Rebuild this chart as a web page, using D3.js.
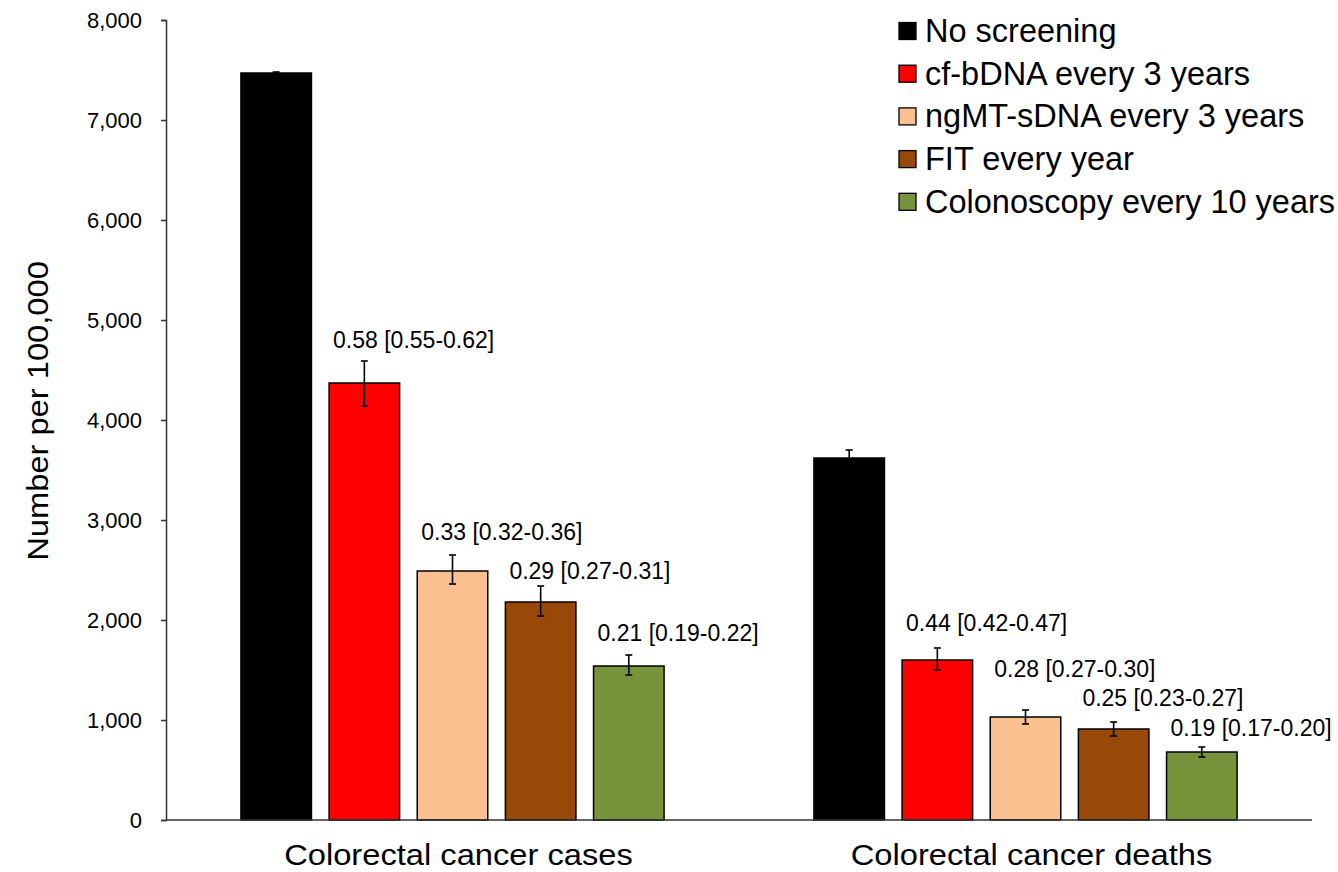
<!DOCTYPE html>
<html>
<head>
<meta charset="utf-8">
<script src="https://cdn.jsdelivr.net/npm/d3@7"></script>
<style>
  html, body { margin: 0; padding: 0; background: #fff; }
  svg { display: block; font-family: "Liberation Sans", Arial, Helvetica, sans-serif; }
</style>
</head>
<body>
<svg id="chart" width="1338" height="872"></svg>
<script>
// Outcome groups and screening strategies
const groups = ["Colorectal cancer cases", "Colorectal cancer deaths"];
const strategies = ["No screening", "cf-bDNA every 3 years", "ngMT-sDNA every 3 years", "FIT every year", "Colonoscopy every 10 years"];
const colors = ["#000000", "#FF0000", "#FAC090", "#984807", "#77933C"];

// Number per 100,000 by strategy, with uncertainty bounds
const casesValues = [7470, 4370, 2490, 2180, 1540];
const casesLow    = [7460, 4140, 2360, 2040, 1450];
const casesHigh   = [7480, 4590, 2650, 2340, 1650];

const deathsValues = [3620, 1600, 1030, 910, 680];
const deathsLow    = [3540, 1500, 960, 840, 630];
const deathsHigh   = [3700, 1720, 1100, 980, 730];

// Relative-risk annotations (vs. no screening)
const casesLabels  = ["", "0.58 [0.55-0.62]", "0.33 [0.32-0.36]", "0.29 [0.27-0.31]", "0.21 [0.19-0.22]"];
const deathsLabels = ["", "0.44 [0.42-0.47]", "0.28 [0.27-0.30]", "0.25 [0.23-0.27]", "0.19 [0.17-0.20]"];

const yTicks = [0, 1000, 2000, 3000, 4000, 5000, 6000, 7000, 8000];

// ---- layout ----
const plot = { left: 166, right: 1312, top: 20, bottom: 820 };
// vertical lift of each annotation above its error bar (px)
const labelLift = [[0, 21, 23, 15, 22], [0, 25, 41, 24, 19]];

const series = [
  { values: casesValues, low: casesLow, high: casesHigh, labels: casesLabels },
  { values: deathsValues, low: deathsLow, high: deathsHigh, labels: deathsLabels }
];

const svg = d3.select("#chart");

const x0 = d3.scaleBand().domain(groups).range([plot.left, plot.right]).padding(0);
const x1 = d3.scaleBand().domain(strategies).range([0, x0.bandwidth()])
  .paddingInner(0.2).paddingOuter(0.85);
const y = d3.scaleLinear().domain([0, 8000]).range([plot.bottom, plot.top]);

// y axis
const yAxis = svg.append("g")
  .attr("transform", `translate(${plot.left},0)`)
  .call(d3.axisLeft(y).tickValues(yTicks).tickFormat(d3.format(",")).tickSize(5).tickPadding(19))
  .attr("font-size", 22)
  .attr("font-family", "'Liberation Sans', Arial, sans-serif");
yAxis.select(".domain").attr("stroke", "#333").attr("stroke-width", 1.5);
yAxis.selectAll(".tick line").attr("stroke", "#333").attr("stroke-width", 1.5);
yAxis.selectAll(".tick text").style("font-size", "22px").attr("fill", "#000");

// bars, error bars and annotations
groups.forEach((g, gi) => {
  const s = series[gi];
  const gx = x0(g);
  const grp = svg.append("g").attr("transform", `translate(${gx},0)`);

  strategies.forEach((st, i) => {
    const bx = x1(st), bw = x1.bandwidth();
    grp.append("rect")
      .attr("x", bx).attr("y", y(s.values[i]))
      .attr("width", bw).attr("height", y(0) - y(s.values[i]))
      .attr("fill", colors[i]).attr("stroke", "#000").attr("stroke-width", 1.5);

    const cx = bx + bw / 2, cap = 3.5;
    const eb = grp.append("g").attr("stroke", "#000").attr("stroke-width", 1.6);
    eb.append("line").attr("x1", cx).attr("x2", cx).attr("y1", y(s.low[i])).attr("y2", y(s.high[i]));
    eb.append("line").attr("x1", cx - cap).attr("x2", cx + cap).attr("y1", y(s.high[i])).attr("y2", y(s.high[i]));
    eb.append("line").attr("x1", cx - cap).attr("x2", cx + cap).attr("y1", y(s.low[i])).attr("y2", y(s.low[i]));

    if (s.labels[i]) {
      grp.append("text")
        .attr("x", bx + 4)
        .attr("y", y(s.high[i]) - labelLift[gi][i])
        .attr("dominant-baseline", "central")
        .style("font-size", "23px")
        .attr("fill", "#000")
        .text(s.labels[i]);
    }
  });
});

// x axis baseline
svg.append("line")
  .attr("x1", plot.left).attr("x2", plot.right)
  .attr("y1", y(0)).attr("y2", y(0))
  .attr("stroke", "#333").attr("stroke-width", 1.5);

// category labels (slightly widened face)
svg.selectAll(".cat").data(groups).enter().append("text")
  .attr("class", "cat")
  .attr("transform", d => `translate(${x0(d) + x0.bandwidth() / 2 + 6},855) scale(1.09,1)`)
  .attr("text-anchor", "middle")
  .attr("dominant-baseline", "central")
  .style("font-size", "30px")
  .text(d => d);

// y axis title
svg.append("text")
  .attr("transform", `translate(38,411) rotate(-90) scale(1.09,1)`)
  .attr("text-anchor", "middle")
  .attr("dominant-baseline", "central")
  .style("font-size", "30px")
  .text("Number per 100,000");

// legend
const legend = svg.append("g").attr("transform", "translate(899,31)");
strategies.forEach((st, i) => {
  const row = legend.append("g").attr("transform", `translate(0,${i * 42.7})`);
  row.append("rect").attr("x", 0).attr("y", -8.5).attr("width", 17).attr("height", 17)
    .attr("fill", colors[i]).attr("stroke", "#000").attr("stroke-width", 1.3);
  row.append("text").attr("x", 26).attr("y", 0)
    .attr("dominant-baseline", "central")
    .style("font-size", "32.5px")
    .text(st);
});
</script>
</body>
</html>
